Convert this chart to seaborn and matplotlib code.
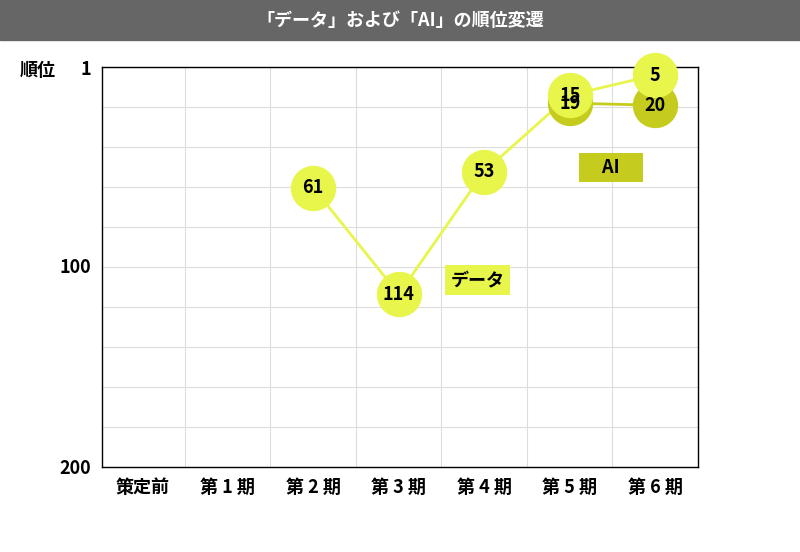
import numpy as np
import pandas as pd
import matplotlib.pyplot as plt
import seaborn as sns

plt.rcParams["font.family"] = "Noto Sans CJK JP"

periods = ["策定前", "第 1 期", "第 2 期", "第 3 期", "第 4 期", "第 5 期", "第 6 期"]
data_rank = [None, None, 61, 114, 53, 15, 5]
ai_rank = [None, None, None, None, None, 19, 20]

DATA_COLOR = "#e8f54a"
AI_COLOR = "#c5cc1e"

df = pd.DataFrame({"x": range(len(periods)), "データ": data_rank, "AI": ai_rank})

fig = plt.figure(figsize=(8, 5.52), dpi=100)
fig.patches.append(plt.Rectangle((0, 1 - 40 / 552), 1, 40 / 552, transform=fig.transFigure,
                                 color="#666666", zorder=0))
fig.text(0.5, 1 - 20 / 552, "「データ」および「AI」の順位変遷", ha="center", va="center",
         color="white", fontsize=13, fontweight="bold")

ax = fig.add_axes([0.1275, 0.154, 0.745, 0.7246])

# grid
for r in np.linspace(1, 200, 11):
    ax.axhline(r, color="#dddddd", lw=0.8, zorder=0)
for x in np.arange(0.5, 6, 1):
    ax.axvline(x, color="#dddddd", lw=0.8, zorder=0)

for col, color in [("AI", AI_COLOR), ("データ", DATA_COLOR)]:
    sub = df.dropna(subset=[col])
    sns.lineplot(data=sub, x="x", y=col, color=color, lw=2, ax=ax, zorder=2)
    ax.scatter(sub["x"], sub[col], s=1000, color=color, zorder=3, clip_on=False)
    for x, v in zip(sub["x"], sub[col]):
        ax.text(x, v, str(int(v)), ha="center", va="center", fontsize=13,
                fontweight="bold", zorder=4)

ax.text(3.92, 107, "データ", ha="center", va="center", fontsize=13, fontweight="bold",
        bbox=dict(boxstyle="square,pad=0.3", fc=DATA_COLOR, ec="none"))
ax.text(5.48, 51, "　AI　", ha="center", va="center", fontsize=13, fontweight="bold",
        bbox=dict(boxstyle="square,pad=0.3", fc=AI_COLOR, ec="none"))

ax.set_xlim(-0.47, 6.5)
ax.set_ylim(200, 1)
ax.set_yticks([1, 100, 200])
ax.set_yticklabels(["1", "100", "200"], fontsize=13, fontweight="bold")
ax.set_xticks(range(len(periods)))
ax.set_xticklabels(periods, fontsize=13, fontweight="bold")
ax.tick_params(length=0, pad=8)
ax.set_xlabel("")
ax.set_ylabel("")
for s in ax.spines.values():
    s.set_color("black")
    s.set_linewidth(1)
fig.text(20 / 800, 1 - 70 / 552, "順位", ha="left", va="center", fontsize=13, fontweight="bold")

fig.savefig("out.png", dpi=100)
